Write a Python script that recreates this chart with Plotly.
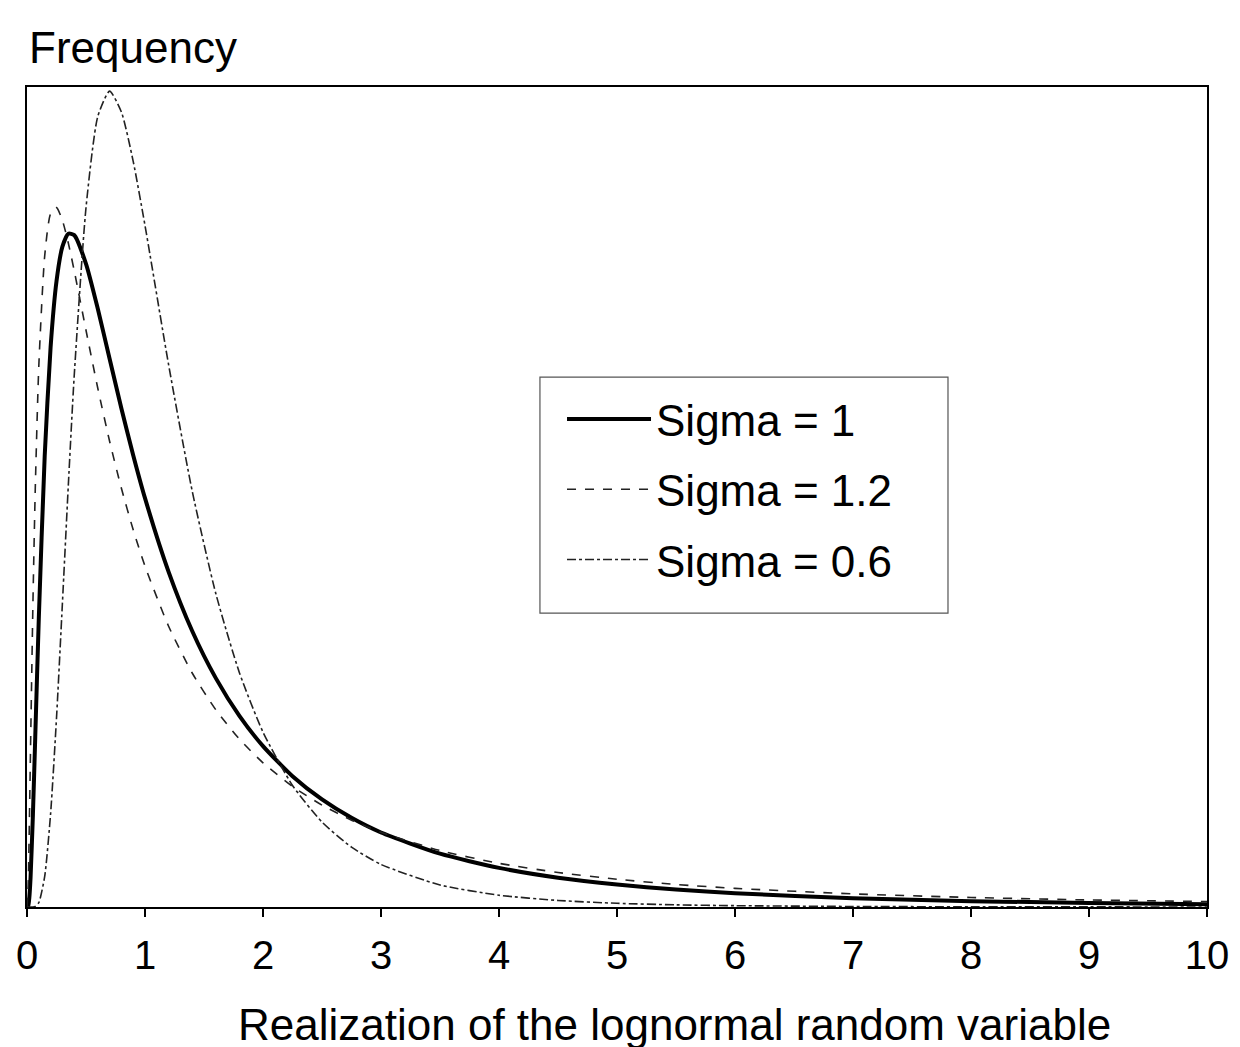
import plotly.graph_objects as go

# Realization of the lognormal random variable (x) and frequencies
x_vals = [0.0, 0.01, 0.02, 0.03, 0.05, 0.07, 0.1, 0.15, 0.2, 0.25, 0.3, 0.35, 0.4, 0.5,
          0.6, 0.7, 0.8, 0.9, 1.0, 1.2, 1.4, 1.6, 1.8, 2.0, 2.25, 2.5, 2.75, 3.0,
          3.5, 4.0, 4.5, 5.0, 5.5, 6.0, 7.0, 8.0, 9.0, 10.0]

sigma_1 = [0.0, 0.0010, 0.0095, 0.0284, 0.0898, 0.1661, 0.2816, 0.4399, 0.5463, 0.6105,
           0.6442, 0.6569, 0.6555, 0.6275, 0.5836, 0.5348, 0.4864, 0.4408, 0.3989,
           0.3270, 0.2693, 0.2233, 0.1865, 0.1569, 0.1276, 0.1049, 0.0870, 0.0727,
           0.0520, 0.0382, 0.0286, 0.0219, 0.0170, 0.0134, 0.0086, 0.0057, 0.0040, 0.0028]

sigma_12 = [0.0, 0.0211, 0.0818, 0.1550, 0.2948, 0.4076, 0.5276, 0.6352, 0.6764, 0.6823,
            0.6699, 0.6478, 0.6209, 0.5627, 0.5061, 0.4544, 0.4085, 0.3680, 0.3325,
            0.2739, 0.2283, 0.1924, 0.1638, 0.1407, 0.1176, 0.0994, 0.0847, 0.0729,
            0.0551, 0.0426, 0.0337, 0.0271, 0.0220, 0.0182, 0.0128, 0.0093, 0.0069, 0.0053]

sigma_06 = [0.0, 0.0, 0.0, 0.0, 0.00005, 0.0005, 0.0042, 0.0299, 0.0910, 0.1843,
            0.2961, 0.4111, 0.5180, 0.6823, 0.7713, 0.7960, 0.7756, 0.7275, 0.6649,
            0.5291, 0.4058, 0.3058, 0.2286, 0.1706, 0.1186, 0.0829, 0.0584, 0.0415,
            0.0215, 0.0115, 0.0064, 0.0036, 0.0021, 0.0013, 0.0005, 0.0002, 0.0001, 0.00004]

series_names = ["Sigma = 1", "Sigma = 1.2", "Sigma = 0.6"]
x_ticks = list(range(0, 11))
x_title = "Realization of the lognormal random variable"
y_title = "Frequency"

FONT = "Liberation Sans, Arial, Helvetica, sans-serif"

fig = go.Figure()
fig.add_trace(go.Scatter(x=x_vals, y=sigma_1, mode="lines", name=series_names[0],
                         legendgroup="a",
                         line=dict(color="black", width=4, shape="spline", smoothing=0.6)))
fig.add_trace(go.Scatter(x=x_vals, y=sigma_12, mode="lines", name=series_names[1],
                         legendgroup="b",
                         line=dict(color="#222222", width=1.6, dash="dash", shape="spline", smoothing=0.6)))
fig.add_trace(go.Scatter(x=x_vals, y=sigma_06, mode="lines", name=series_names[2],
                         legendgroup="c",
                         line=dict(color="#222222", width=1.6, dash="dashdot", shape="spline", smoothing=0.6)))

fig.update_layout(
    width=1240, height=1047,
    margin=dict(l=19, r=41, t=79, b=148),
    paper_bgcolor="white", plot_bgcolor="white",
    font=dict(family=FONT, color="black", size=40),
    showlegend=True,
    legend=dict(
        x=0.4534, y=0.6378, xanchor="left", yanchor="top",
        bgcolor="rgba(0,0,0,0)", borderwidth=0,
        font=dict(family=FONT, size=44, color="black"),
        tracegroupgap=10, itemwidth=84,
    ),
    xaxis=dict(
        range=[0, 10], tickvals=x_ticks, ticktext=[str(t) for t in x_ticks],
        showline=True, linecolor="black", linewidth=2, mirror=True,
        ticks="outside", ticklen=8, tickwidth=2, tickcolor="black",
        showgrid=False, zeroline=False, automargin=False,
        tickfont=dict(family=FONT, size=40, color="black"),
        ticklabelstandoff=4,
    ),
    yaxis=dict(
        range=[0, 0.8], showticklabels=False, ticks="",
        showline=True, linecolor="black", linewidth=1.5, mirror=True,
        showgrid=False, zeroline=False, automargin=False,
    ),
    shapes=[dict(
        type="rect", xref="paper", yref="paper",
        x0=0.4347, x1=0.7805, y0=0.3585, y1=0.6463,
        line=dict(color="#555555", width=1.2), fillcolor="rgba(0,0,0,0)",
    )],
    annotations=[
        dict(text=y_title, xref="paper", yref="paper", x=0, y=1, xanchor="left",
             yanchor="middle", yshift=40, showarrow=False,
             font=dict(family=FONT, size=44, color="black")),
        dict(text=x_title, xref="paper", yref="paper", x=0.549, y=-0.1439,
             xanchor="center", yanchor="middle", showarrow=False,
             font=dict(family=FONT, size=44, color="black")),
    ],
)

fig.write_html("out.html")
